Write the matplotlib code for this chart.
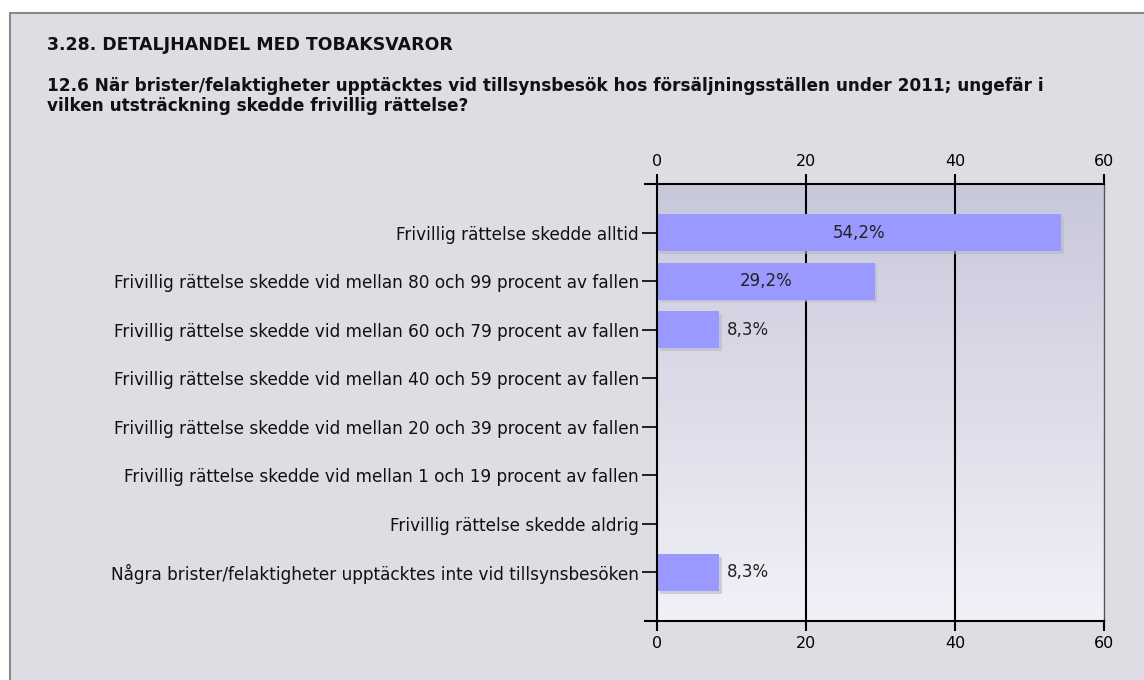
import numpy as np
import matplotlib.pyplot as plt
from matplotlib.patches import Rectangle
import matplotlib.patheffects as pe

# data ########################################################################
section_title = '3.28. DETALJHANDEL MED TOBAKSVAROR'
question = ('12.6 När brister/felaktigheter upptäcktes vid tillsynsbesök hos försäljningsställen under 2011; ungefär i\n'
            'vilken utsträckning skedde frivillig rättelse?')
categories = ['Frivillig rättelse skedde alltid',
              'Frivillig rättelse skedde vid mellan 80 och 99 procent av fallen',
              'Frivillig rättelse skedde vid mellan 60 och 79 procent av fallen',
              'Frivillig rättelse skedde vid mellan 40 och 59 procent av fallen',
              'Frivillig rättelse skedde vid mellan 20 och 39 procent av fallen',
              'Frivillig rättelse skedde vid mellan 1 och 19 procent av fallen',
              'Frivillig rättelse skedde aldrig',
              'Några brister/felaktigheter upptäcktes inte vid tillsynsbesöken']
values = [54.2, 29.2, 8.3, 0, 0, 0, 0, 8.3]
value_labels = ['54,2%', '29,2%', '8,3%', '', '', '', '', '8,3%']
xticks = [0, 20, 40, 60]
###############################################################################

plt.rcParams['font.family'] = ['DejaVu Sans']

fig = plt.figure(figsize=(11.44, 6.8), dpi=100)
fig.patch.set_facecolor('white')

# gray panel behind everything
panel = Rectangle((10/1144, -0.01), 1.0, 1 - 13/680 + 0.01,
                  transform=fig.transFigure, facecolor='#dddde3',
                  edgecolor='#8a8a8a', linewidth=1.5, zorder=-10)
fig.patches.append(panel)

fig.text(47/1144, 1 - 45/680, section_title, fontsize=12.5, fontweight='bold',
         va='center', ha='left', color='#111111', zorder=5)
fig.text(47/1144, 1 - 96/680, question, fontsize=12.2, fontweight='bold',
         va='center', ha='left', color='#111111', linespacing=1.1, zorder=5)

ax = fig.add_axes([657/1144, 1 - 621/680, (1104 - 657)/1144, (621 - 184)/680])
ax.set_zorder(2)
ax.set_xlim(0, 60)
ax.set_ylim(8, -1)

# gradient background
grad = np.linspace(0, 1, 256).reshape(-1, 1)
top = np.array([0xc8, 0xc8, 0xdb]) / 255
bot = np.array([0xf1, 0xf1, 0xf8]) / 255
img = top + (bot - top) * grad[:, :, None]
ax.imshow(img, extent=[0, 60, 8, -1], aspect='auto', zorder=0)

for x in xticks[1:-1]:
    ax.axvline(x, color='black', linewidth=1.5, zorder=1)

y = np.arange(len(categories))
bars = ax.barh(y, values, height=0.76, color='#9999ff', zorder=2,
               path_effects=[pe.SimplePatchShadow(offset=(2, -2), shadow_rgbFace='#b8b8c4', alpha=0.6), pe.Normal()])

for i, (v, lab) in enumerate(zip(values, value_labels)):
    if not lab:
        continue
    if v > 20:
        ax.text(v / 2, i, lab, ha='center', va='center', fontsize=12, color='#222222', zorder=3)
    else:
        ax.annotate(lab, (v, i), xytext=(6, 0), textcoords='offset points',
                    ha='left', va='center', fontsize=12, color='#222222', zorder=3)

ax.set_yticks(y)
ax.set_yticklabels(categories, fontsize=12.2, color='#111111')
ax.set_xticks(xticks)
ax.tick_params(axis='x', top=True, labeltop=True, bottom=True, labelbottom=True,
               direction='out', length=7, width=1.5, labelsize=11.5, pad=4)
ax.tick_params(axis='y', direction='out', length=11, width=1.2, pad=2)

for s in ['top', 'bottom']:
    ax.spines[s].set_linewidth(1.5)
ax.spines['left'].set_linewidth(1.5)
ax.spines['right'].set_color('#555555')
ax.spines['right'].set_linewidth(1)

# top/bottom axis lines extend a little to the left
for yy in [0, 1]:
    ax.plot([-12/447, 0], [yy, yy], transform=ax.transAxes, color='black',
            linewidth=1.5, clip_on=False)

fig.savefig('out.png', dpi=100, facecolor=fig.get_facecolor())
